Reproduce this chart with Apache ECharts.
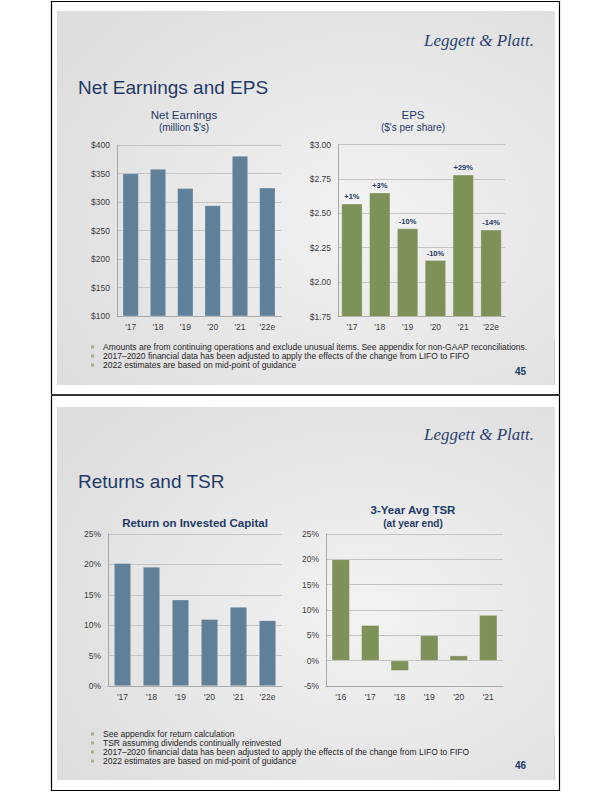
<!DOCTYPE html>
<html>
<head>
<meta charset="utf-8">
<script src="https://cdn.jsdelivr.net/npm/echarts@6/dist/echarts.min.js"></script>
<style>
html,body{margin:0;padding:0;background:#fff;}
#c{width:612px;height:792px;}
</style>
</head>
<body>
<div id="c"></div>
<script>
// ---- data ----
const yearCats = ["'17", "'18", "'19", "'20", "'21", "'22e"];
const netEarnings = [350, 358, 324, 294, 381, 325];
const epsValues = [2.57, 2.65, 2.39, 2.16, 2.78, 2.38];
const epsChangeLabels = ['+1%', '+3%', '-10%', '-10%', '+29%', '-14%'];
const roicValues = [20.2, 19.6, 14.2, 11.0, 13.0, 10.8];
const tsrCats = ["'16", "'17", "'18", "'19", "'20", "'21"];
const tsrValues = [20, 7, -2, 5, 1, 9];
const slide1Notes = [
  'Amounts are from continuing operations and exclude unusual items. See appendix for non-GAAP reconciliations.',
  '2017\u20132020 financial data has been adjusted to apply the effects of the change from LIFO to FIFO',
  '2022 estimates are based on mid-point of guidance'
];
const slide2Notes = [
  'See appendix for return calculation',
  'TSR assuming dividends continually reinvested',
  '2017\u20132020 financial data has been adjusted to apply the effects of the change from LIFO to FIFO',
  '2022 estimates are based on mid-point of guidance'
];

const FONT = '"Liberation Sans", Arial, sans-serif';
const NAVY = '#1f3a68';
const BLUE = '#60809a';
const GREEN = '#7e9159';
const GRID = '#c4c4c4';
const AXIS = '#a8a8a8';
const LABEL = '#404040';

const chart = echarts.init(document.getElementById('c'), null, {renderer: 'svg'});

function xAx(gi, cats) {
  return {
    gridIndex: gi, type: 'category', data: cats,
    axisLine: {onZero: false, lineStyle: {color: AXIS, width: 1}},
    axisTick: {show: false},
    axisLabel: {color: LABEL, fontSize: 8.5, fontFamily: FONT, margin: 6}
  };
}
function yAx(gi, min, max, interval, fmt) {
  return {
    gridIndex: gi, type: 'value', min: min, max: max, interval: interval,
    axisLine: {show: true, lineStyle: {color: AXIS, width: 1}},
    axisTick: {show: false},
    splitLine: {lineStyle: {color: GRID, width: 1}},
    axisLabel: {color: LABEL, fontSize: 8.5, fontFamily: FONT, margin: 7, formatter: fmt}
  };
}

function bgSlide(y, h) {
  return {
    type: 'rect', z: -100, silent: true,
    shape: {x: 57, y: y, width: 498, height: h},
    style: {
      fill: new echarts.graphic.RadialGradient(0.62, 0.55, 0.75, [
        {offset: 0, color: '#f3f3f3'},
        {offset: 1, color: '#dddddd'}
      ])
    }
  };
}
function txt(x, y, text, font, color, align, z) {
  return {
    type: 'text', z: z || 10, x: x, y: y,
    style: {text: text, font: font, fill: color, textAlign: align || 'left', textVerticalAlign: 'middle'}
  };
}
const graphics = [];
// page frame
graphics.push({type: 'rect', z: -200, shape: {x: 51.5, y: 1.5, width: 508, height: 789}, style: {fill: '#fff', stroke: '#000', lineWidth: 1.2}});
graphics.push({type: 'rect', z: -150, shape: {x: 51, y: 394, width: 509, height: 2}, style: {fill: '#333'}});
graphics.push(bgSlide(11, 374));
graphics.push(bgSlide(407, 373));
// slide edges
graphics.push({type: 'rect', z: -80, shape: {x: 554, y: 340, width: 1, height: 45}, style: {fill: '#c9ced6'}});
graphics.push({type: 'rect', z: -80, shape: {x: 554, y: 735, width: 1, height: 45}, style: {fill: '#c9ced6'}});
// logos
graphics.push(txt(479, 40, 'Leggett & Platt.', 'italic 17px "Liberation Serif", "DejaVu Serif", serif', '#2b4273', 'center'));
graphics.push(txt(479, 434, 'Leggett & Platt.', 'italic 17px "Liberation Serif", "DejaVu Serif", serif', '#2b4273', 'center'));
// slide titles
graphics.push(txt(78, 87, 'Net Earnings and EPS', '19px ' + FONT, NAVY, 'left'));
graphics.push(txt(78, 481, 'Returns and TSR', '19px ' + FONT, NAVY, 'left'));
// chart titles
graphics.push(txt(184, 115, 'Net Earnings', '11.5px ' + FONT, NAVY, 'center'));
graphics.push(txt(184, 127, "(million $'s)", '10px ' + FONT, NAVY, 'center'));
graphics.push(txt(413, 115, 'EPS', '11.5px ' + FONT, NAVY, 'center'));
graphics.push(txt(413, 127, "($'s per share)", '10px ' + FONT, NAVY, 'center'));
graphics.push(txt(195, 523, 'Return on Invested Capital', 'bold 11.5px ' + FONT, NAVY, 'center'));
graphics.push(txt(413, 510, '3-Year Avg TSR', 'bold 11.5px ' + FONT, NAVY, 'center'));
graphics.push(txt(413, 523, '(at year end)', 'bold 10px ' + FONT, NAVY, 'center'));
// footnotes
function notes(list, y0) {
  list.forEach(function (t, i) {
    const y = y0 + i * 9;
    graphics.push({type: 'rect', z: 10, shape: {x: 91, y: y - 1.5, width: 3, height: 3}, style: {fill: '#a3b17c'}});
    graphics.push(txt(103, y, t, '8.5px ' + FONT, '#262626', 'left'));
  });
}
notes(slide1Notes, 347);
notes(slide2Notes, 734);
// page numbers
graphics.push(txt(526, 371, '45', 'bold 10px ' + FONT, NAVY, 'right'));
graphics.push(txt(526, 765, '46', 'bold 10px ' + FONT, NAVY, 'right'));

const option = {
  animation: false,
  backgroundColor: '#fff',
  graphic: {elements: graphics},
  grid: [
    {left: 117, top: 145, width: 164, height: 171},
    {left: 338, top: 144.5, width: 167, height: 172},
    {left: 108, top: 534, width: 174, height: 152},
    {left: 326, top: 534, width: 177, height: 152}
  ],
  xAxis: [xAx(0, yearCats), xAx(1, yearCats), xAx(2, yearCats), xAx(3, tsrCats)],
  yAxis: [
    yAx(0, 100, 400, 50, function (v) { return '$' + v; }),
    yAx(1, 1.75, 3.0, 0.25, function (v) { return '$' + v.toFixed(2); }),
    yAx(2, 0, 25, 5, function (v) { return v + '%'; }),
    yAx(3, -5, 25, 5, function (v) { return v + '%'; })
  ],
  series: [
    {type: 'bar', xAxisIndex: 0, yAxisIndex: 0, data: netEarnings, barWidth: 16,
     itemStyle: {color: BLUE, borderColor: 'rgba(255,255,255,0.45)', borderWidth: 0.6}},
    {type: 'bar', xAxisIndex: 1, yAxisIndex: 1, data: epsValues, barWidth: 21,
     itemStyle: {color: GREEN, borderColor: 'rgba(255,255,255,0.45)', borderWidth: 0.6},
     label: {show: true, position: 'top', distance: 3, fontSize: 7.5, fontWeight: 'bold', color: NAVY, fontFamily: FONT,
             formatter: function (p) { return epsChangeLabels[p.dataIndex]; }}},
    {type: 'bar', xAxisIndex: 2, yAxisIndex: 2, data: roicValues, barWidth: 17,
     itemStyle: {color: BLUE, borderColor: 'rgba(255,255,255,0.45)', borderWidth: 0.6}},
    {type: 'bar', xAxisIndex: 3, yAxisIndex: 3, data: tsrValues, barWidth: 18,
     itemStyle: {color: GREEN, borderColor: 'rgba(255,255,255,0.45)', borderWidth: 0.6}}
  ]
};
chart.setOption(option);
</script>
</body>
</html>
